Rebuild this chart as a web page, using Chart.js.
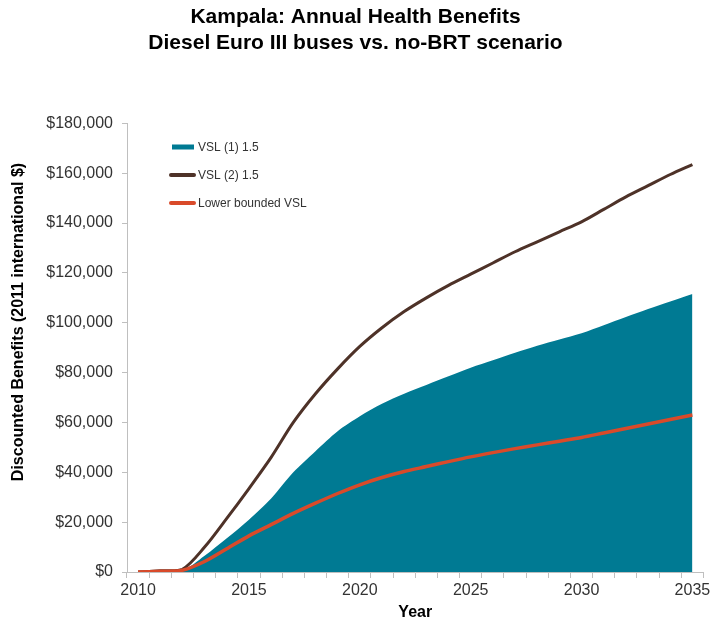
<!DOCTYPE html>
<html>
<head>
<meta charset="utf-8">
<script src="https://cdn.jsdelivr.net/npm/chart.js@4.4.1/dist/chart.umd.min.js"></script>
<style>
  html, body { margin: 0; padding: 0; background: #ffffff; }
  #wrap { width: 711px; height: 623px; }
</style>
</head>
<body>
<div id="wrap"><canvas id="c" width="711" height="623"></canvas></div>
<script>
// Years on the category axis
const years = [
  2010, 2011, 2012, 2013, 2014, 2015, 2016, 2017, 2018, 2019, 2020, 2021, 2022,
  2023, 2024, 2025, 2026, 2027, 2028, 2029, 2030, 2031, 2032, 2033, 2034, 2035
];

// Discounted benefits, 2011 international $
const vsl1 = [
  0, 300, 600, 6500, 13500, 21000, 29500, 40000, 48500, 56500, 62500, 67500, 71500,
  75000, 78500, 82000, 85000, 88000, 90800, 93300, 95800, 99000, 102300, 105500, 108500, 111500
];
const vsl2 = [
  0, 500, 1100, 10000, 21500, 33500, 46000, 60000, 71500, 81500, 90500, 98000, 104500,
  110000, 115000, 119500, 124000, 128500, 132500, 136500, 140500, 145500, 150500, 155000, 159500, 163500
];
const lowerVsl = [
  0, 300, 700, 4200, 9300, 14500, 19000, 23500, 27600, 31500, 35000, 37900, 40300,
  42300, 44300, 46200, 47900, 49500, 51000, 52500, 54000, 55800, 57600, 59400, 61200, 63000
];

const seriesNames = ['VSL (1) 1.5', 'VSL (2) 1.5', 'Lower bounded VSL'];
const yTicks = [0, 20000, 40000, 60000, 80000, 100000, 120000, 140000, 160000, 180000];

const TEAL = 'rgb(0,122,147)';
const BROWN = 'rgb(78,50,40)';
const RED = 'rgb(217,74,42)';
const AXIS = '#bfbfbf';
const FONT = "'Liberation Sans', Arial, sans-serif";

// Legend drawn inside the plot, top-left
const innerLegend = {
  id: 'innerLegend',
  afterDraw(chart) {
    const ctx = chart.ctx;
    const x0 = 171, x1 = 194, tx = 198;
    const rows = [147, 175, 203];
    ctx.save();
    ctx.font = '12px ' + FONT;
    ctx.textBaseline = 'middle';
    ctx.textAlign = 'left';
    chart.data.datasets.forEach((ds, i) => {
      const y = rows[i];
      if (ds.fill) {
        ctx.fillStyle = ds.backgroundColor;
        ctx.fillRect(x0 + 1, y - 2.5, x1 - x0 - 1, 5);
      } else {
        ctx.strokeStyle = ds.borderColor;
        ctx.lineWidth = 4;
        ctx.lineCap = 'round';
        ctx.beginPath();
        ctx.moveTo(x0, y);
        ctx.lineTo(x1, y);
        ctx.stroke();
      }
      ctx.fillStyle = '#333333';
      ctx.fillText(ds.label, tx, y + 0.5);
    });
    ctx.restore();
  }
};

// Rotated y-axis title
const yTitle = {
  id: 'yTitle',
  afterDraw(chart) {
    const ctx = chart.ctx;
    ctx.save();
    ctx.translate(19, 322);
    ctx.rotate(-Math.PI / 2);
    ctx.font = 'bold 16px ' + FONT;
    ctx.fillStyle = '#000000';
    ctx.textAlign = 'center';
    ctx.textBaseline = 'middle';
    ctx.fillText('Discounted Benefits (2011 international $)', 0, 0);
    ctx.restore();
  }
};

new Chart(document.getElementById('c'), {
  type: 'line',
  data: {
    labels: years.map(String),
    datasets: [
      {
        label: seriesNames[0],
        data: vsl1,
        fill: 'origin',
        backgroundColor: TEAL,
        borderColor: TEAL,
        borderWidth: 0,
        pointRadius: 0,
        tension: 0.3,
        order: 3
      },
      {
        label: seriesNames[1],
        data: vsl2,
        fill: false,
        borderColor: BROWN,
        borderWidth: 3,
        pointRadius: 0,
        tension: 0.3,
        order: 2
      },
      {
        label: seriesNames[2],
        data: lowerVsl,
        fill: false,
        borderColor: RED,
        borderWidth: 3.5,
        pointRadius: 0,
        tension: 0.3,
        order: 1
      }
    ]
  },
  options: {
    responsive: false,
    animation: false,
    events: [],
    layout: { padding: { left: 0, right: 0, top: 0, bottom: 0 } },
    plugins: {
      legend: { display: false },
      tooltip: { enabled: false },
      title: {
        display: true,
        text: [
          'Kampala: Annual Health Benefits',
          'Diesel Euro III buses vs. no-BRT scenario'
        ],
        color: '#000000',
        font: { family: FONT, size: 21, weight: 'bold', lineHeight: 1.2 },
        padding: { top: 5, bottom: 68 }
      }
    },
    scales: {
      x: {
        type: 'category',
        offset: true,
        afterFit(scale) {
          scale.height = 51;
          scale.paddingLeft = 0;
          scale.paddingRight = 7.5;
        },
        grid: {
          offset: true,
          drawOnChartArea: false,
          drawTicks: true,
          tickLength: 6,
          color: AXIS
        },
        border: { display: true, color: AXIS, width: 1 },
        ticks: {
          autoSkip: false,
          maxRotation: 0,
          padding: 3,
          color: '#333333',
          font: { family: FONT, size: 16 },
          callback(value, index) {
            return years[index] % 5 === 0 ? String(years[index]) : '';
          }
        },
        title: {
          display: true,
          text: 'Year',
          color: '#000000',
          font: { family: FONT, size: 16, weight: 'bold' },
          padding: { top: 2, bottom: 1 }
        }
      },
      y: {
        min: 0,
        max: 180000,
        afterFit(scale) { scale.width = 127; },
        afterBuildTicks(scale) {
          scale.ticks = yTicks.map(v => ({ value: v }));
        },
        grid: {
          drawOnChartArea: false,
          drawTicks: true,
          tickLength: 5,
          color: AXIS
        },
        border: { display: true, color: AXIS, width: 1 },
        ticks: {
          padding: 9,
          color: '#333333',
          font: { family: FONT, size: 16 },
          callback(value) {
            return '$' + value.toLocaleString('en-US');
          }
        }
      }
    }
  },
  plugins: [innerLegend, yTitle]
});
</script>
</body>
</html>
